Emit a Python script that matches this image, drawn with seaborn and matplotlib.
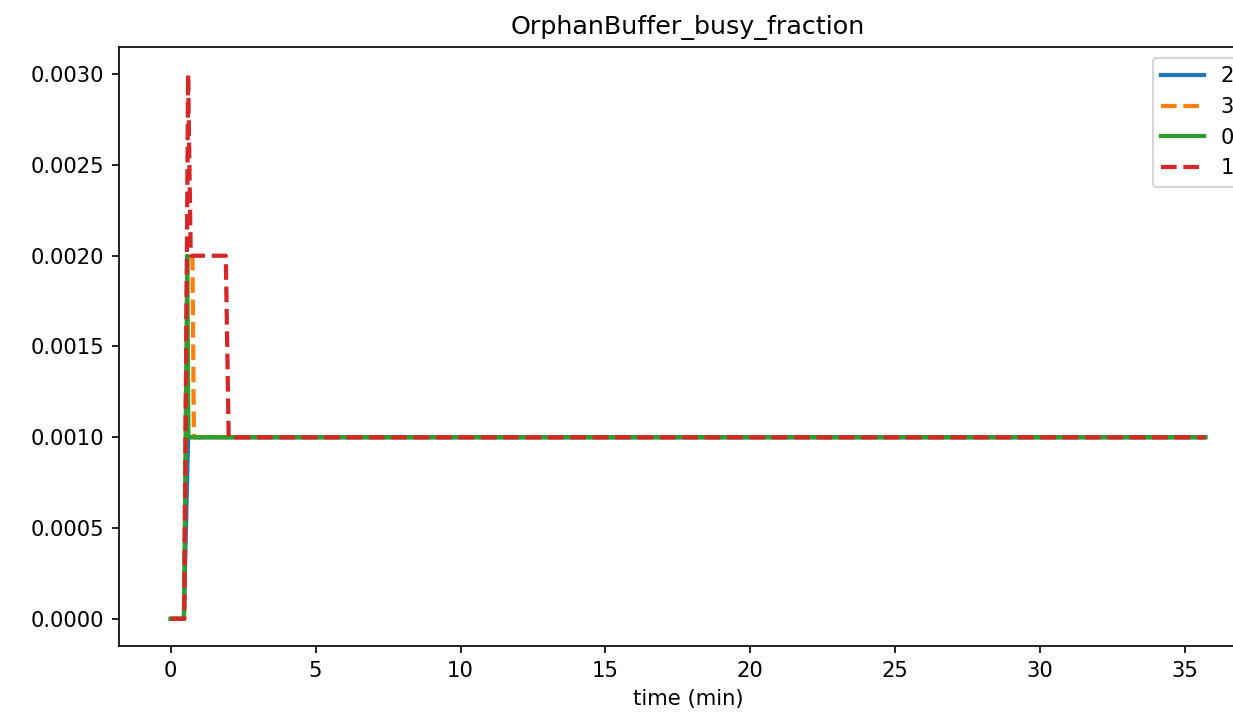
import pandas as pd
import numpy as np
import matplotlib
matplotlib.use("Agg")
import matplotlib.pyplot as plt
import seaborn as sns

# busy fraction samples per worker (time in minutes)
t_2 = [0.0, 0.45, 0.60, 35.7]
v_2 = [0.0, 0.0, 0.001, 0.001]

t_3 = [0.0, 0.45, 0.57, 0.75, 0.80, 35.7]
v_3 = [0.0, 0.0, 0.002, 0.002, 0.001, 0.001]

t_0 = [0.0, 0.46, 0.57, 0.61, 35.7]
v_0 = [0.0, 0.0, 0.002, 0.001, 0.001]

t_1 = [0.0, 0.47, 0.60, 0.69, 1.90, 2.00, 35.7]
v_1 = [0.0, 0.0, 0.003, 0.002, 0.002, 0.001, 0.001]

labels = ["2", "3", "0", "1"]

frames = []
for lab, t, v in zip(labels, [t_2, t_3, t_0, t_1], [v_2, v_3, v_0, v_1]):
    frames.append(pd.DataFrame({"time": t, "value": v, "worker": lab}))
df = pd.concat(frames, ignore_index=True)

DPI = 152
fig = plt.figure(figsize=(1233 / DPI, 719 / DPI), dpi=DPI)
# axes runs past the right edge of the figure, like the original crop
ax = fig.add_axes([119 / 1233, 73 / 719, (1257 - 119) / 1233, (646 - 47) / 719])

palette = {"2": "#1f77b4", "3": "#ff7f0e", "0": "#2ca02c", "1": "#d62728"}
dashes = {"2": "", "3": (3.7, 1.6), "0": "", "1": (3.7, 1.6)}

sns.lineplot(data=df, x="time", y="value", hue="worker", style="worker",
             hue_order=labels, style_order=labels, palette=palette,
             dashes=dashes, linewidth=2, ax=ax, estimator=None, sort=False)

ax.set_title("OrphanBuffer_busy_fraction")
ax.set_xlabel("time (min)")
ax.set_ylabel("")
ax.set_xticks([0, 5, 10, 15, 20, 25, 30, 35])

ax.legend(loc="upper left", bbox_to_anchor=(1153 / 1233, 1 - 58 / 719),
          bbox_transform=fig.transFigure, borderaxespad=0)

fig.savefig("out.png", dpi=DPI)
